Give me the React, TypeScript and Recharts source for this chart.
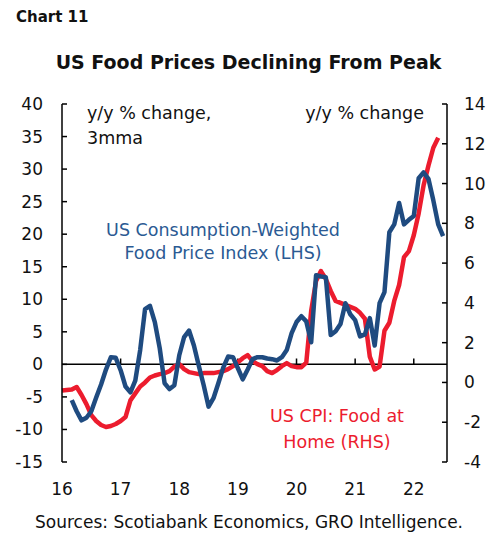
import { LineChart, Line, XAxis, YAxis, ReferenceLine } from 'recharts';

// monthly, index 0 = Jan 2016
const cpiFoodAtHome = [
  -0.41, -0.38, -0.36, -0.23, -0.63, -1.09, -1.64, -1.94, -2.14, -2.24, -2.19, -2.09,
  -1.94, -1.74, -0.9, -0.55, -0.2, 0.0, 0.25, 0.35, 0.42, 0.47, 0.57, 0.8,
  0.92, 0.67, 0.52, 0.47, 0.42, 0.47, 0.47, 0.47, 0.52, 0.57, 0.67, 0.82,
  1.02, 1.22, 1.37, 1.07, 0.92, 0.82, 0.57, 0.47, 0.62, 0.82, 0.97, 0.82,
  0.77, 0.77, 1.0, 3.6, 5.1, 5.6, 5.2, 4.6, 4.1, 4.0, 3.9, 3.8,
  3.7, 3.5, 3.2, 1.3, 0.65, 0.8, 2.6, 3.0, 4.1, 4.9, 6.3, 6.6,
  7.4, 8.5, 9.9, 10.9, 11.8, 12.3,
];

// 3mma, starts Mar 2016
const foodPriceIndex = [
  null, null,
  -5.5, -7.2, -8.6, -8.2, -7.2, -5.1, -3.1, -0.8, 1.1, 1.0,
  -0.9, -3.4, -4.3, -2.5, 2.2, 8.5, 9.0, 6.5, 2.5, -2.9, -3.8, -3.2,
  1.4, 4.2, 5.2, 2.9, -0.2, -3.2, -6.5, -5.2, -2.9, -0.5, 1.2, 1.1,
  -0.6, -2.3, -0.8, 0.8, 1.1, 1.1, 0.9, 0.8, 0.6, 1.1, 2.2, 4.8,
  6.5, 7.4, 6.6, 3.4, 13.7, 13.5, 13.4, 4.5, 5.1, 6.2, 9.4, 7.7,
  6.8, 4.3, 4.6, 7.1, 2.9, 9.4, 11.1, 20.3, 21.5, 24.8, 21.5, 22.2,
  22.8, 28.6, 29.5, 28.5, 25.2, 21.5, 19.7,
];

const yearTicks = [0, 12, 24, 36, 48, 60, 72];
const yearLabels = ['16', '17', '18', '19', '20', '21', '22'];
const leftTicks = [-15, -10, -5, 0, 5, 10, 15, 20, 25, 30, 35, 40];
const rightTicks = [-4, -2, 0, 2, 4, 6, 8, 10, 12, 14];

const data = foodPriceIndex.map((v, i) => ({
  m: i,
  fpi: v,
  cpi: i < cpiFoodAtHome.length ? cpiFoodAtHome[i] : null,
}));

const FONT = '"DejaVu Sans", sans-serif';
const BLUE = '#1f4b80';
const RED = '#ec1c2e';

const txt = (top: number, extra: React.CSSProperties): React.CSSProperties => ({
  position: 'absolute',
  top: top,
  lineHeight: '20px',
  whiteSpace: 'nowrap',
  fontFamily: FONT,
  color: '#111',
  ...extra,
});

export default function App() {
  return (
    <div style={{ position: 'absolute', left: 0, top: 0, width: 503, height: 536, background: '#fff', fontFamily: FONT }}>
      <div style={txt(7, { left: 16, fontSize: 15, fontWeight: 'bold' })}>Chart 11</div>
      <div style={txt(52, { left: 0, width: 497, textAlign: 'center', fontSize: 19, fontWeight: 'bold' })}>
        US Food Prices Declining From Peak
      </div>

      <LineChart width={503} height={536} data={data} margin={{ top: 104, right: 0, bottom: 44, left: 0 }}>
        <XAxis
          dataKey="m"
          type="number"
          domain={[0, 78.8]}
          ticks={yearTicks}
          tickFormatter={(v) => yearLabels[yearTicks.indexOf(v)]}
          axisLine={false}
          tickLine={false}
          tickMargin={15}
          height={30}
          tick={{ fontSize: 17, fill: '#111', fontFamily: FONT }}
        />
        <YAxis
          yAxisId="left"
          orientation="left"
          domain={[-15, 40]}
          ticks={leftTicks}
          width={62}
          tickSize={-5}
          tickMargin={24}
          axisLine={{ stroke: '#000', strokeWidth: 1.5 }}
          tickLine={{ stroke: '#000', strokeWidth: 1.5 }}
          tick={{ fontSize: 17, fill: '#111', fontFamily: FONT }}
        />
        <YAxis
          yAxisId="right"
          orientation="right"
          domain={[-4, 14]}
          ticks={rightTicks}
          width={56}
          tickSize={-5}
          tickMargin={22}
          axisLine={{ stroke: '#000', strokeWidth: 1.5 }}
          tickLine={{ stroke: '#000', strokeWidth: 1.5 }}
          tick={{ fontSize: 17, fill: '#111', fontFamily: FONT }}
        />
        <ReferenceLine yAxisId="left" y={0} stroke="#000" strokeWidth={1.5} />
        {yearTicks.slice(1).map((t) => (
          <ReferenceLine
            key={t}
            yAxisId="left"
            segment={[{ x: t, y: 0 }, { x: t, y: 0.9 }]}
            stroke="#000"
            strokeWidth={1.5}
          />
        ))}
        <Line
          yAxisId="right"
          dataKey="cpi"
          type="linear"
          stroke={RED}
          strokeWidth={4.5}
          dot={false}
          strokeLinejoin="round"
          isAnimationActive={false}
        />
        <Line
          yAxisId="left"
          dataKey="fpi"
          type="linear"
          stroke={BLUE}
          strokeWidth={4.5}
          dot={false}
          strokeLinejoin="round"
          isAnimationActive={false}
        />
      </LineChart>

      <div style={txt(103, { left: 87, fontSize: 17.5 })}>y/y % change,</div>
      <div style={txt(128, { left: 87, fontSize: 17.5 })}>3mma</div>
      <div style={txt(103, { left: 0, width: 424, textAlign: 'right', fontSize: 17.5 })}>y/y % change</div>

      <div style={txt(220, { left: 23, width: 400, textAlign: 'center', fontSize: 17.5, color: '#2b5a93' })}>
        US Consumption-Weighted
      </div>
      <div style={txt(243, { left: 23, width: 400, textAlign: 'center', fontSize: 17.5, color: '#2b5a93' })}>
        Food Price Index (LHS)
      </div>

      <div style={txt(406, { left: 137, width: 400, textAlign: 'center', fontSize: 17.5, color: RED })}>
        US CPI: Food at
      </div>
      <div style={txt(432, { left: 137, width: 400, textAlign: 'center', fontSize: 17.5, color: RED })}>
        Home (RHS)
      </div>

      <div style={txt(512, { left: 0, width: 498, textAlign: 'center', fontSize: 17 })}>
        Sources: Scotiabank Economics, GRO Intelligence.
      </div>
    </div>
  );
}
